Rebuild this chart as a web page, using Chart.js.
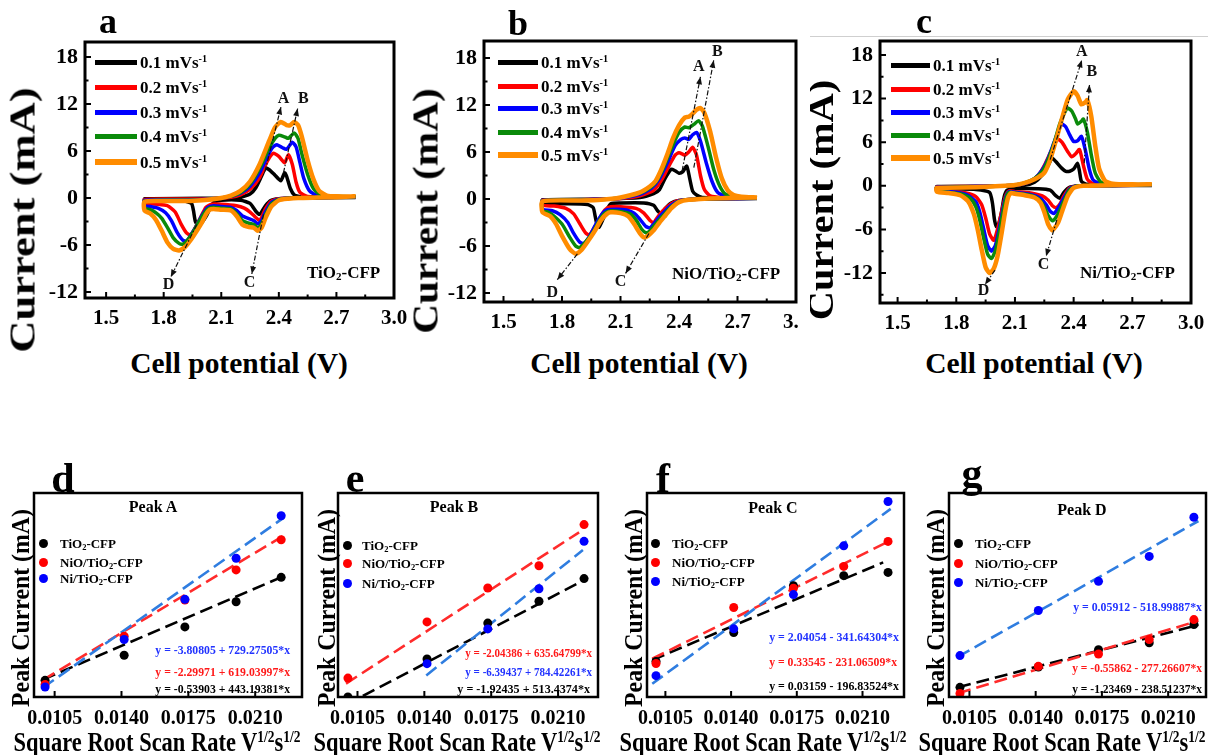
<!DOCTYPE html>
<html>
<head>
<meta charset="utf-8">
<script src="https://cdn.jsdelivr.net/npm/chart.js@4.4.1/dist/chart.umd.min.js"></script>
<style>
  body { margin: 0; width: 1215px; height: 755px; overflow: hidden; position: relative; background: #fff;
         font-family: "Liberation Serif", "Times New Roman", serif; font-weight: bold; color: #000; }
  canvas { position: absolute; }
  .t { position: absolute; white-space: nowrap; line-height: 1; }
  .t sub { font-size: .65em; vertical-align: -0.25em; line-height: 0; }
  .t sup { font-size: .6em; vertical-align: 0.55em; line-height: 0; }
  .bar { position: absolute; }
  .dot { position: absolute; width: 9px; height: 9px; border-radius: 50%; margin: -4.5px 0 0 -4.5px; }
  .clip { position: absolute; overflow: hidden; }
</style>
</head>
<body>
<script>
// ============== CV 数据 (V, mA)，每条: 2.8 -> 1.7 (还原) 再 1.7 -> 2.8 (氧化) ==============
const rateNames = ['0.1', '0.2', '0.3', '0.4', '0.5'];
const rateColors = ['#000000', '#ff0000', '#0000ff', '#0a8a0a', '#ff8c00'];
const xTicksCV = [1.5, 1.8, 2.1, 2.4, 2.7, 3.0];
const xMinorCV = [1.65, 1.95, 2.25, 2.55, 2.85];
const yTicksCV = [-12, -6, 0, 6, 12, 18];
const yMinorCV = [-15, -9, -3, 3, 9, 15];

// panel a  TiO2-CFP
const a01 = [[2.8,0.05],[2.5,0],[2.4,-0.1],[2.36,-0.3],[2.33,-1.0],[2.31,-1.8],[2.3,-2.1],[2.28,-1.7],[2.25,-0.7],[2.2,-0.3],[2.1,-0.3],[2.06,-0.6],[2.04,-1.4],[2.02,-2.4],[2.0,-3.1],[1.98,-3.5],[1.965,-3.0],[1.955,-1.6],[1.945,-0.7],[1.9,-0.35],[1.8,-0.3],[1.7,-0.3],
  [1.7,-0.1],[2.0,-0.05],[2.2,0.1],[2.25,0.5],[2.28,1.3],[2.31,2.8],[2.33,3.8],[2.35,3.6],[2.38,2.9],[2.41,2.2],[2.43,3.2],[2.44,2.8],[2.46,1.2],[2.48,0.4],[2.52,0.1],[2.8,0.05]];
const a02 = [[2.8,0.1],[2.6,0.05],[2.4,-0.1],[2.36,-0.4],[2.33,-1.4],[2.31,-2.5],[2.3,-2.9],[2.28,-2.5],[2.25,-1.8],[2.22,-1.3],[2.18,-1.0],[2.1,-0.8],[2.05,-0.8],[2.02,-1.2],[1.99,-2.6],[1.96,-4.0],[1.94,-4.7],[1.92,-4.5],[1.89,-3.3],[1.86,-1.8],[1.82,-1.0],[1.77,-0.8],[1.7,-0.7],
  [1.7,-0.2],[1.9,-0.15],[2.05,-0.1],[2.15,0.1],[2.2,0.4],[2.25,1.1],[2.3,2.6],[2.34,4.7],[2.37,5.7],[2.4,5.3],[2.43,4.5],[2.45,5.5],[2.47,4.3],[2.49,2.0],[2.51,0.7],[2.55,0.2],[2.7,0.1],[2.8,0.1]];
const a03 = [[2.8,0.1],[2.6,0.05],[2.45,-0.05],[2.4,-0.15],[2.36,-0.6],[2.33,-1.8],[2.31,-2.9],[2.29,-3.3],[2.27,-2.9],[2.24,-2.6],[2.21,-2.3],[2.18,-1.6],[2.15,-1.2],[2.1,-1.1],[2.06,-1.0],[2.03,-1.2],[2.0,-2.2],[1.97,-3.6],[1.94,-4.8],[1.92,-5.5],[1.9,-5.4],[1.87,-4.4],[1.84,-2.9],[1.81,-1.9],[1.77,-1.3],[1.73,-1.1],[1.7,-1.0],
  [1.7,-0.3],[1.9,-0.25],[2.0,-0.2],[2.1,0],[2.15,0.2],[2.2,0.6],[2.25,1.5],[2.3,3.2],[2.34,5.3],[2.37,6.5],[2.39,6.8],[2.42,6.4],[2.44,6.2],[2.47,7.1],[2.49,6.5],[2.51,4.5],[2.53,2.5],[2.56,0.9],[2.6,0.3],[2.7,0.15],[2.8,0.1]];
const a04 = [[2.8,0.15],[2.6,0.05],[2.45,-0.05],[2.4,-0.2],[2.36,-0.8],[2.33,-2.2],[2.31,-3.3],[2.29,-3.8],[2.27,-3.4],[2.24,-3.2],[2.21,-2.9],[2.18,-2.0],[2.15,-1.4],[2.1,-1.3],[2.06,-1.2],[2.03,-1.4],[2.01,-2.0],[1.98,-3.2],[1.95,-4.5],[1.92,-5.5],[1.9,-5.9],[1.88,-5.8],[1.85,-5.1],[1.82,-3.8],[1.79,-2.6],[1.76,-1.9],[1.73,-1.5],[1.7,-1.3],
  [1.7,-0.4],[1.9,-0.3],[2.0,-0.25],[2.1,0],[2.15,0.2],[2.2,0.7],[2.25,1.8],[2.3,3.8],[2.35,6.4],[2.38,7.6],[2.4,8.0],[2.43,7.8],[2.45,7.6],[2.48,8.3],[2.5,7.6],[2.52,5.6],[2.55,3.0],[2.58,1.2],[2.62,0.4],[2.7,0.2],[2.8,0.15]];
const a05 = [[2.8,0.2],[2.7,0.1],[2.6,0.05],[2.5,0],[2.45,-0.1],[2.4,-0.3],[2.36,-1.1],[2.33,-2.6],[2.31,-3.8],[2.29,-4.2],[2.27,-3.8],[2.24,-3.7],[2.21,-3.4],[2.18,-2.3],[2.15,-1.6],[2.1,-1.5],[2.06,-1.4],[2.04,-1.5],[2.02,-2.1],[2.0,-3.1],[1.97,-4.3],[1.94,-5.4],[1.91,-6.3],[1.88,-6.7],[1.85,-6.5],[1.82,-5.7],[1.79,-4.2],[1.76,-2.8],[1.73,-2.0],[1.7,-1.6],
  [1.7,-0.5],[1.8,-0.4],[1.9,-0.4],[2.0,-0.3],[2.1,0],[2.15,0.3],[2.2,0.9],[2.25,2.1],[2.3,4.3],[2.35,7.3],[2.38,9.0],[2.41,9.7],[2.44,9.3],[2.46,9.3],[2.48,9.7],[2.5,9.3],[2.52,7.8],[2.55,4.8],[2.58,2.4],[2.61,0.9],[2.65,0.3],[2.7,0.2],[2.8,0.2]];

// panel b  NiO/TiO2-CFP
const b01 = [[2.8,0.05],[2.5,0],[2.4,-0.2],[2.36,-0.5],[2.33,-1.2],[2.31,-1.9],[2.29,-1.5],[2.27,-0.8],[2.22,-0.5],[2.1,-0.5],[2.05,-0.6],[2.03,-1.4],[2.01,-2.6],[1.99,-3.6],[1.98,-3.3],[1.97,-2.2],[1.96,-1.1],[1.93,-0.7],[1.8,-0.6],[1.7,-0.5],
  [1.7,-0.1],[2.0,0],[2.2,0.2],[2.27,0.7],[2.3,1.2],[2.33,2.7],[2.36,3.8],[2.38,3.6],[2.4,3.3],[2.42,3.5],[2.44,4.2],[2.455,2.6],[2.47,1.0],[2.49,0.5],[2.52,0.2],[2.8,0.05]];
const b02 = [[2.8,0.1],[2.6,0.05],[2.4,-0.2],[2.36,-0.6],[2.33,-1.2],[2.3,-2.0],[2.28,-2.7],[2.27,-3.0],[2.25,-2.7],[2.22,-1.8],[2.18,-1.2],[2.1,-1.0],[2.05,-1.0],[2.02,-1.4],[1.99,-2.6],[1.96,-3.9],[1.94,-4.6],[1.92,-4.3],[1.89,-3.1],[1.86,-1.9],[1.82,-1.2],[1.76,-0.9],[1.7,-0.8],
  [1.7,-0.15],[1.9,-0.1],[2.1,0.05],[2.2,0.4],[2.27,1.1],[2.31,2.4],[2.35,4.3],[2.38,5.6],[2.4,5.9],[2.42,5.7],[2.43,5.6],[2.45,6.0],[2.47,6.6],[2.49,5.6],[2.51,3.0],[2.53,1.2],[2.56,0.4],[2.62,0.2],[2.8,0.1]];
const b03 = [[2.8,0.1],[2.6,0.05],[2.45,-0.05],[2.4,-0.25],[2.36,-0.8],[2.33,-1.5],[2.3,-2.3],[2.27,-3.2],[2.25,-3.7],[2.23,-3.5],[2.2,-2.6],[2.17,-1.8],[2.13,-1.4],[2.08,-1.3],[2.03,-1.4],[2.0,-2.1],[1.97,-3.4],[1.94,-4.8],[1.91,-5.7],[1.89,-5.5],[1.86,-4.4],[1.83,-3.0],[1.79,-2.0],[1.75,-1.5],[1.7,-1.3],
  [1.7,-0.2],[1.9,-0.1],[2.1,0.1],[2.2,0.6],[2.26,1.4],[2.3,2.6],[2.34,4.6],[2.38,6.8],[2.41,7.6],[2.43,7.8],[2.45,7.6],[2.47,8.2],[2.49,8.5],[2.51,7.4],[2.54,4.6],[2.57,2.2],[2.6,0.8],[2.65,0.3],[2.8,0.1]];
const b04 = [[2.8,0.15],[2.6,0.05],[2.45,-0.1],[2.4,-0.3],[2.36,-1.0],[2.33,-1.8],[2.3,-2.6],[2.27,-3.5],[2.25,-4.1],[2.23,-4.3],[2.21,-3.9],[2.18,-2.7],[2.15,-1.9],[2.1,-1.6],[2.05,-1.5],[2.02,-1.8],[1.99,-2.8],[1.96,-4.2],[1.92,-5.5],[1.89,-6.2],[1.87,-6.0],[1.84,-4.9],[1.8,-3.2],[1.76,-2.2],[1.73,-1.7],[1.7,-1.5],
  [1.7,-0.25],[1.9,-0.15],[2.0,-0.1],[2.1,0.15],[2.2,0.75],[2.25,1.4],[2.28,2.1],[2.31,3.4],[2.34,5.2],[2.37,7.0],[2.4,8.5],[2.43,9.2],[2.45,9.1],[2.48,9.6],[2.5,10.0],[2.52,9.3],[2.55,6.6],[2.58,3.6],[2.61,1.6],[2.64,0.6],[2.7,0.25],[2.8,0.15]];
const b05 = [[2.8,0.2],[2.6,0.1],[2.45,-0.1],[2.4,-0.4],[2.36,-1.2],[2.33,-2.1],[2.3,-3.0],[2.27,-4.0],[2.24,-4.7],[2.22,-4.9],[2.2,-4.4],[2.17,-3.2],[2.14,-2.2],[2.1,-1.8],[2.05,-1.7],[2.03,-1.9],[2.0,-2.7],[1.97,-4.0],[1.93,-5.5],[1.9,-6.5],[1.87,-7.0],[1.84,-6.4],[1.8,-4.7],[1.77,-3.2],[1.74,-2.2],[1.7,-1.7],
  [1.7,-0.3],[1.9,-0.2],[2.0,-0.1],[2.1,0.2],[2.2,0.85],[2.25,1.6],[2.28,2.3],[2.31,3.8],[2.34,5.7],[2.37,7.8],[2.4,9.4],[2.43,10.4],[2.45,10.5],[2.47,10.9],[2.49,11.4],[2.51,11.6],[2.53,11.0],[2.56,8.6],[2.59,5.3],[2.62,2.6],[2.65,1.1],[2.68,0.5],[2.72,0.3],[2.8,0.2]];

// panel c  Ni/TiO2-CFP
const c01 = [[2.8,0.05],[2.45,0],[2.38,-0.2],[2.35,-0.9],[2.33,-1.7],[2.31,-1.4],[2.28,-0.6],[2.22,-0.4],[2.1,-0.4],[2.06,-0.6],[2.045,-1.5],[2.03,-3.8],[2.015,-5.4],[2.005,-5.6],[1.995,-4.6],[1.985,-2.4],[1.97,-0.9],[1.9,-0.5],[1.8,-0.45],[1.7,-0.4],
  [1.7,-0.1],[2.0,-0.05],[2.15,0.1],[2.2,0.5],[2.24,1.5],[2.27,2.8],[2.29,3.8],[2.31,3.3],[2.34,2.4],[2.36,2.0],[2.38,2.0],[2.4,2.3],[2.42,3.1],[2.43,2.0],[2.44,0.6],[2.47,0.2],[2.8,0.05]];
const c02 = [[2.8,0.1],[2.6,0.05],[2.42,0],[2.38,-0.3],[2.35,-1.4],[2.33,-2.5],[2.31,-3.0],[2.29,-2.7],[2.27,-2.0],[2.24,-1.4],[2.18,-1.0],[2.1,-0.8],[2.07,-0.7],[2.055,-1.2],[2.04,-2.6],[2.02,-5.0],[2.0,-7.0],[1.99,-7.5],[1.97,-6.6],[1.95,-4.4],[1.93,-2.6],[1.9,-1.5],[1.85,-1.0],[1.78,-0.8],[1.7,-0.5],
  [1.7,-0.15],[1.9,-0.1],[2.05,0],[2.12,0.15],[2.18,0.6],[2.22,1.5],[2.25,2.8],[2.28,4.5],[2.31,6.1],[2.32,6.4],[2.34,6.0],[2.37,4.7],[2.39,4.0],[2.41,4.4],[2.43,5.0],[2.45,2.8],[2.47,0.9],[2.5,0.3],[2.8,0.1]];
const c03 = [[2.8,0.1],[2.6,0.05],[2.42,0],[2.38,-0.4],[2.35,-1.7],[2.32,-3.1],[2.3,-3.8],[2.28,-3.5],[2.26,-2.6],[2.23,-1.7],[2.18,-1.2],[2.1,-0.9],[2.07,-0.8],[2.055,-1.4],[2.04,-3.0],[2.02,-5.8],[2.0,-8.2],[1.98,-9.0],[1.96,-8.2],[1.94,-5.9],[1.92,-3.6],[1.9,-2.2],[1.86,-1.3],[1.8,-0.9],[1.7,-0.6],
  [1.7,-0.2],[1.9,-0.1],[2.05,0],[2.1,0.1],[2.15,0.35],[2.2,1.0],[2.24,2.2],[2.27,3.8],[2.3,6.0],[2.33,8.1],[2.34,8.5],[2.36,8.1],[2.38,7.0],[2.4,6.1],[2.42,6.2],[2.44,6.8],[2.46,4.9],[2.48,2.3],[2.5,0.8],[2.54,0.3],[2.8,0.1]];
const c04 = [[2.8,0.15],[2.6,0.05],[2.42,0],[2.38,-0.5],[2.35,-2.1],[2.32,-3.9],[2.3,-4.7],[2.29,-4.8],[2.27,-4.1],[2.25,-2.9],[2.22,-1.8],[2.18,-1.3],[2.1,-1.0],[2.07,-0.9],[2.055,-1.6],[2.04,-3.4],[2.02,-6.4],[2.0,-8.9],[1.98,-10.0],[1.96,-9.4],[1.94,-7.2],[1.92,-4.7],[1.9,-2.9],[1.87,-1.7],[1.82,-1.1],[1.76,-0.9],[1.7,-0.7],
  [1.7,-0.25],[1.9,-0.15],[2.05,0],[2.1,0.1],[2.15,0.4],[2.2,1.0],[2.24,2.0],[2.27,3.6],[2.3,5.9],[2.33,8.6],[2.36,10.4],[2.37,10.7],[2.39,10.3],[2.41,9.2],[2.42,8.5],[2.44,8.9],[2.45,9.2],[2.47,7.4],[2.49,4.3],[2.51,1.8],[2.54,0.5],[2.6,0.25],[2.8,0.15]];
const c05 = [[2.8,0.2],[2.6,0.1],[2.45,0],[2.4,-0.3],[2.37,-1.4],[2.34,-3.6],[2.32,-5.1],[2.3,-5.9],[2.29,-6.1],[2.27,-5.3],[2.25,-3.6],[2.23,-2.3],[2.2,-1.6],[2.15,-1.3],[2.1,-1.1],[2.08,-1.0],[2.065,-1.6],[2.05,-3.5],[2.03,-6.8],[2.01,-9.8],[1.99,-11.5],[1.97,-12.0],[1.95,-11.2],[1.93,-8.8],[1.91,-6.1],[1.89,-3.9],[1.86,-2.1],[1.82,-1.3],[1.76,-1.0],[1.7,-0.8],
  [1.7,-0.3],[1.9,-0.2],[2.05,0],[2.1,0.1],[2.15,0.4],[2.2,0.9],[2.25,1.8],[2.28,3.6],[2.31,6.3],[2.34,9.2],[2.37,11.9],[2.4,13.0],[2.42,12.4],[2.44,11.2],[2.46,11.5],[2.47,11.8],[2.49,9.6],[2.51,5.6],[2.53,2.4],[2.56,0.7],[2.6,0.3],[2.7,0.2],[2.8,0.2]];

// 峰位标注 (起点, 箭头终点, 字母位置)
const arrowsA = [
  { from: [2.328, 3.4], to: [2.411, 11.6], at: [2.424, 12.7], label: 'A' },
  { from: [2.424, 3.2], to: [2.498, 11.4], at: [2.528, 12.7], label: 'B' },
  { from: [2.32, -2.1], to: [2.259, -9.7], at: [2.247, -10.8], label: 'C' },
  { from: [1.972, -3.4], to: [1.837, -10.1], at: [1.825, -11.1], label: 'D' },
];
const arrowsB = [
  { from: [2.416, 3.6], to: [2.51, 15.6], at: [2.502, 16.9], label: 'A' },
  { from: [2.476, 4.0], to: [2.578, 17.7], at: [2.596, 18.8], label: 'B' },
  { from: [2.246, -4.4], to: [2.126, -9.5], at: [2.10, -10.6], label: 'C' },
  { from: [1.879, -7.0], to: [1.776, -10.3], at: [1.75, -12.0], label: 'D' },
];
const arrowsC = [
  { from: [2.28, 3.6], to: [2.442, 17.3], at: [2.442, 18.5], label: 'A' },
  { from: [2.454, 3.1], to: [2.481, 13.9], at: [2.493, 15.7], label: 'B' },
  { from: [2.314, -4.7], to: [2.259, -9.7], at: [2.246, -10.9], label: 'C' },
  { from: [1.998, -11.6], to: [1.947, -13.6], at: [1.939, -14.5], label: 'D' },
];

// ============== 峰电流 vs 扫速平方根 ==============
const sqrtRate = [0.0100, 0.01414, 0.01732, 0.0200, 0.02236];
const xTicksFit = [0.0105, 0.0140, 0.0175, 0.0210];
const sampleNames = ['TiO<sub>2</sub>-CFP', 'NiO/TiO<sub>2</sub>-CFP', 'Ni/TiO<sub>2</sub>-CFP'];
const dotColors = ['#000000', '#ff0000', '#0000ff'];
const fitColors = ['#000000', '#ff2b2b', '#2f7de0'];

const peakA_T = [3.80, 5.16, 6.69, 8.05, 9.37];
const peakA_N = [3.58, 6.19, 8.14, 9.77, 11.40];
const peakA_Ni = [3.44, 6.01, 8.18, 10.40, 12.70];
const peakB_T = [3.56, 5.51, 7.35, 8.47, 9.63];
const peakB_N = [4.53, 7.41, 9.15, 10.29, 12.40];
const peakB_Ni = [null, 5.27, 7.05, 9.11, 11.54];
const peakC_T = [-1.86, -2.58, -3.74, -3.99, -4.07];
const peakC_N = [-1.81, -3.20, -3.68, -4.22, -4.84];
const peakC_Ni = [-1.51, -2.67, -3.52, -4.73, -5.83];
const peakD_T = [-3.59, -4.58, -5.42, -5.75, -6.64];
const peakD_N = [-3.29, -4.61, -5.21, -5.91, -6.88];
const peakD_Ni = [-5.13, -7.32, -8.74, -9.95, -11.85];

// 拟合线两端 (x 端点, y 端点)
const fitXA = [0.0099, 0.0225];
const fitA_T = [3.848, 9.433], fitA_N = [3.829, 11.629], fitA_Ni = [3.412, 12.600];
const fitXB_T = [0.0099, 0.0220], fitXB_N = [0.0099, 0.0221], fitXB_Ni = [0.0141, 0.0223];
const fitB_T = [3.159, 9.371], fitB_N = [4.249, 12.004], fitB_Ni = [4.666, 11.098];
const fitXC_T = [0.0098, 0.0221], fitXC_N = [0.0098, 0.0224], fitXC_Ni = [0.0098, 0.0225];
const fitC_T = [-1.897, -4.318], fitC_N = [-1.929, -4.840], fitC_Ni = [-1.308, -5.646];
const fitXD = [0.0099, 0.0226];
const fitD_T = [-3.596, -6.625], fitD_N = [-3.304, -6.825], fitD_Ni = [-5.079, -11.670];

const eqA = ['y = -0.53903 + 443.19381*x', 'y = -2.29971 + 619.03997*x', 'y = -3.80805 + 729.27505*x'];
const eqB = ['y = -1.92435 + 513.4374*x', 'y = -2.04386 + 635.64799*x', 'y = -6.39437 + 784.42261*x'];
const eqC = ['y = 0.03159 - 196.83524*x', 'y = 0.33545 - 231.06509*x', 'y = 2.04054 - 341.64304*x'];
const eqD = ['y = -1.23469 - 238.51237*x', 'y = -0.55862 - 277.26607*x', 'y = 0.05912 - 518.99887*x'];

// ============== 工具 ==============
const SERIF = '"Liberation Serif", "Times New Roman", serif';

function txt(html, x, y, size, o = {}) {
  const d = document.createElement('div');
  d.className = 't';
  d.innerHTML = html;
  d.style.fontSize = size + 'px';
  if (o.color) d.style.color = o.color;
  (o.parent || document.body).appendChild(d);
  const k = o.len ? o.len / d.offsetWidth : 1;
  const al = o.align || 'center';
  const tx = al === 'left' ? 0 : al === 'right' ? -100 : -50;
  d.style.transformOrigin = al === 'left' ? 'left center' : al === 'right' ? 'right center' : 'center center';
  d.style.left = x + 'px';
  d.style.top = y + 'px';
  d.style.transform = `translate(${tx}%, -50%)` + (o.rot ? ' rotate(-90deg)' : '') + ` scaleX(${k})`;
  return d;
}

function box(cls, x, y, w, h, color) {
  const d = document.createElement('div');
  d.className = cls;
  Object.assign(d.style, { left: x + 'px', top: y + 'px', background: color });
  if (w) d.style.width = w + 'px';
  if (h) d.style.height = h + 'px';
  document.body.appendChild(d);
  return d;
}

// 画框、朝内刻度、箭头标注
const framePlugin = {
  id: 'frame',
  afterDatasetsDraw(chart, args, o) {
    const { ctx, chartArea: a, scales: { x, y } } = chart;
    ctx.save();
    (o.arrows || []).forEach(ar => {
      const x1 = x.getPixelForValue(ar.from[0]), y1 = y.getPixelForValue(ar.from[1]);
      const x2 = x.getPixelForValue(ar.to[0]), y2 = y.getPixelForValue(ar.to[1]);
      ctx.strokeStyle = '#111'; ctx.lineWidth = 1.2; ctx.setLineDash([5, 2, 1.5, 2]);
      ctx.beginPath(); ctx.moveTo(x1, y1); ctx.lineTo(x2, y2); ctx.stroke();
      ctx.setLineDash([]);
      const ang = Math.atan2(y2 - y1, x2 - x1);
      ctx.fillStyle = '#111';
      ctx.beginPath(); ctx.moveTo(x2, y2);
      ctx.lineTo(x2 - 8 * Math.cos(ang - 0.38), y2 - 8 * Math.sin(ang - 0.38));
      ctx.lineTo(x2 - 8 * Math.cos(ang + 0.38), y2 - 8 * Math.sin(ang + 0.38));
      ctx.closePath(); ctx.fill();
      ctx.font = 'bold 16px ' + SERIF; ctx.textAlign = 'center'; ctx.textBaseline = 'middle';
      ctx.fillText(ar.label, x.getPixelForValue(ar.at[0]), y.getPixelForValue(ar.at[1]));
    });
    ctx.strokeStyle = '#000'; ctx.lineWidth = 2;
    const inX = v => v >= x.min && v <= x.max, inY = v => v >= y.min && v <= y.max;
    ctx.beginPath();
    x.ticks.forEach(t => { const p = x.getPixelForValue(t.value); ctx.moveTo(p, a.bottom); ctx.lineTo(p, a.bottom - 6); });
    (o.xMinor || []).filter(inX).forEach(v => { const p = x.getPixelForValue(v); ctx.moveTo(p, a.bottom); ctx.lineTo(p, a.bottom - 3.5); });
    if (o.yTicks) {
      y.ticks.forEach(t => { const p = y.getPixelForValue(t.value); ctx.moveTo(a.left, p); ctx.lineTo(a.left + 6, p); });
      (o.yMinor || []).filter(inY).forEach(v => { const p = y.getPixelForValue(v); ctx.moveTo(a.left, p); ctx.lineTo(a.left + 3.5, p); });
    }
    ctx.stroke();
    ctx.lineWidth = o.lw;
    ctx.strokeRect(a.left, a.top, a.right - a.left, a.bottom - a.top);
    ctx.restore();
  }
};

function makeChart(frame, wy, hx, rp, datasets, sx, sy, frameOpts) {
  const c = document.createElement('canvas');
  const w = frame[2] - frame[0] + wy + rp, h = frame[3] - frame[1] + 10 + hx;
  c.width = w; c.height = h;
  Object.assign(c.style, { left: (frame[0] - wy) + 'px', top: (frame[1] - 10) + 'px', width: w + 'px', height: h + 'px' });
  document.body.appendChild(c);
  const zeroPad = s => { s.paddingLeft = s.paddingRight = s.paddingTop = s.paddingBottom = 0; };
  sx.afterFit = s => { s.height = hx; zeroPad(s); };
  sy.afterFit = s => { s.width = wy; zeroPad(s); };
  return new Chart(c, {
    type: 'scatter',
    data: { datasets },
    options: {
      responsive: false, animation: false, devicePixelRatio: 1, events: [],
      layout: { padding: { top: 10, right: rp, left: 0, bottom: 0 } },
      plugins: { legend: { display: false }, tooltip: { enabled: false }, frame: frameOpts },
      scales: { x: sx, y: sy },
    },
    plugins: [framePlugin],
  });
}

function axis(min, max, tickVals, fmt, size, pad, show, reverse) {
  return {
    type: 'linear', min, max, reverse: !!reverse,
    grid: { display: false, drawTicks: false, tickLength: 0 },
    border: { display: false },
    afterBuildTicks: s => { s.ticks = tickVals.map(v => ({ value: v })); },
    ticks: { display: show, color: '#000', padding: pad, autoSkip: false, maxRotation: 0,
             font: { family: SERIF, weight: 'bold', size }, callback: fmt },
  };
}

// ============== 上排 CV 图 ==============
const cvPanels = [
  { frame: [85, 42, 394, 298], x: [1.39, 3.0], y: [-12.77, 19.9], rp: 20, curves: [a01, a02, a03, a04, a05], arrows: arrowsA },
  { frame: [484, 41, 796, 302], x: [1.40, 3.0], y: [-13.15, 20.17], rp: 2, curves: [b01, b02, b03, b04, b05], arrows: arrowsB },
  { frame: [880, 41, 1191, 303], x: [1.41, 3.0], y: [-16.13, 19.93], rp: 20, curves: [c01, c02, c03, c04, c05], arrows: arrowsC },
];

cvPanels.forEach(p => {
  const ds = p.curves.map((cv, i) => ({
    data: cv.map(q => ({ x: q[0], y: q[1] })),
    showLine: true, pointRadius: 0, tension: 0.2,
    borderColor: rateColors[i], borderWidth: i === 4 ? 4.5 : 3.5, order: 4 - i,
  }));
  makeChart(p.frame, 80, 34, p.rp, ds,
    axis(p.x[0], p.x[1], xTicksCV, v => v.toFixed(1), 21, 8, true),
    axis(p.y[0], p.y[1], yTicksCV, v => String(v), 22, 7, true),
    { lw: 3, yTicks: true, xMinor: xMinorCV, yMinor: yMinorCV, arrows: p.arrows });
});

// 上排文字
txt('a', 108, 21, 36); txt('b', 518, 23, 36); txt('c', 924, 21, 36);
txt('Current (mA)', 23, 220, 35, { rot: true, len: 265 });
txt('Current (mA)', 426, 211, 35, { rot: true, len: 245 });
const clipC = box('clip', 810, 0, 60, 400, 'transparent');
txt('Current (mA)', 11, 200, 35, { rot: true, len: 240, parent: clipC });
txt('Cell potential (V)', 239, 363, 30, { len: 218 });
txt('Cell potential (V)', 639, 363, 30, { len: 218 });
txt('Cell potential (V)', 1034, 363, 30, { len: 218 });
txt('TiO<sub>2</sub>-CFP', 307, 272, 17, { align: 'left' });
txt('NiO/TiO<sub>2</sub>-CFP', 672, 273, 17, { align: 'left' });
txt('Ni/TiO<sub>2</sub>-CFP', 1080, 272, 17, { align: 'left' });

const cvLegends = [
  { x0: 95, x1: 137, tx: 140, rows: [62, 87, 112, 136, 162] },
  { x0: 498, x1: 538, tx: 541, rows: [62, 86, 108, 132, 155] },
  { x0: 891, x1: 930, tx: 933, rows: [65, 89, 112, 135, 158] },
];
cvLegends.forEach(L => {
  L.rows.forEach((ry, i) => {
    const th = i === 4 ? 6 : 5;
    box('bar', L.x0, ry - th / 2, L.x1 - L.x0, th, rateColors[i]);
    txt(rateNames[i] + ' mVs<sup>-1</sup>', L.tx, ry, 17, { align: 'left' });
  });
});
box('bar', 810, 36, 398, 1, '#cfcfcf');

// ============== 下排 拟合图 ==============
const fitPanels = [
  { frame: [34, 493, 302, 697], x: [0.00942, 0.02345], y: [2.90, 13.93], rev: false,
    pts: [peakA_T, peakA_N, peakA_Ni], fx: [fitXA, fitXA, fitXA], fy: [fitA_T, fitA_N, fitA_Ni] },
  { frame: [338, 493, 598, 697], x: [0.00948, 0.02309], y: [3.56, 14.02], rev: false,
    pts: [peakB_T, peakB_N, peakB_Ni], fx: [fitXB_T, fitXB_N, fitXB_Ni], fy: [fitB_T, fitB_N, fitB_Ni] },
  { frame: [647, 493, 904, 697], x: [0.00952, 0.02321], y: [-6.04, -0.98], rev: true,
    pts: [peakC_T, peakC_N, peakC_Ni], fx: [fitXC_T, fitXC_N, fitXC_Ni], fy: [fitC_T, fitC_N, fitC_Ni] },
  { frame: [949, 493, 1206, 697], x: [0.00942, 0.0230], y: [-13.03, -3.12], rev: true,
    pts: [peakD_T, peakD_N, peakD_Ni], fx: [fitXD, fitXD, fitXD], fy: [fitD_T, fitD_N, fitD_Ni] },
];

fitPanels.forEach(p => {
  const ds = [];
  p.pts.forEach((arr, i) => ds.push({
    data: sqrtRate.map((x, j) => ({ x, y: arr[j] })).filter(q => q.y !== null),
    pointRadius: 4.5, pointBackgroundColor: dotColors[i], pointBorderWidth: 0, showLine: false, order: 2 - i,
  }));
  p.fy.forEach((arr, i) => ds.push({
    data: p.fx[i].map((x, j) => ({ x, y: arr[j] })),
    showLine: true, pointRadius: 0, borderColor: fitColors[i], borderWidth: 2.6, borderDash: [13, 6], order: 5 - i,
  }));
  makeChart(p.frame, 30, 36, 10, ds,
    axis(p.x[0], p.x[1], xTicksFit, v => v.toFixed(4), 20, 10, true),
    axis(p.y[0], p.y[1], [], v => '', 12, 0, false, p.rev),
    { lw: 2.5, yTicks: false });
});

// 下排文字
txt('d', 63, 478, 42); txt('e', 355, 478, 42); txt('f', 663, 478, 42); txt('g', 972, 473, 42);
txt('Peak A', 153, 507, 16); txt('Peak B', 454, 507, 16); txt('Peak C', 773, 508, 16); txt('Peak D', 1082, 510, 16);
[20, 326, 633, 935].forEach(x => txt('Peak Current (mA)', x, 608, 25, { rot: true, len: 198 }));
const xTitle = 'Square Root Scan Rate V<sup>1/2</sup>s<sup>1/2</sup>';
[157, 457, 763, 1062].forEach(x => txt(xTitle, x, 742, 27, { len: 287 }));

const fitLegends = [
  { dx: 43, tx: 60, rows: [543, 562, 578] },
  { dx: 347, tx: 362, rows: [545, 563, 583] },
  { dx: 655, tx: 672, rows: [543, 562, 581] },
  { dx: 958, tx: 975, rows: [543, 563, 582] },
];
fitLegends.forEach(L => L.rows.forEach((ry, i) => {
  box('dot', L.dx, ry, 0, 0, dotColors[i]);
  txt(sampleNames[i], L.tx, ry, 13, { align: 'left' });
}));

const eqColors = ['#000000', '#ff1a1a', '#2233ff'];
const eqLayout = [
  { eq: eqA, right: [290, 290, 290], rows: [689, 672, 650], len: [135, 135, 135] },
  { eq: eqB, right: [590, 592, 592], rows: [689, 653, 672], len: [133, 127, 127] },
  { eq: eqC, right: [899, 897, 899], rows: [686, 662, 637], len: [130, 128, 130] },
  { eq: eqD, right: [1202, 1202, 1202], rows: [689, 668, 607], len: [130, 130, 129] },
];
eqLayout.forEach(E => E.eq.forEach((s, i) =>
  txt(s, E.right[i], E.rows[i], 12, { align: 'right', color: eqColors[i], len: E.len[i] })));
</script>
</body>
</html>
